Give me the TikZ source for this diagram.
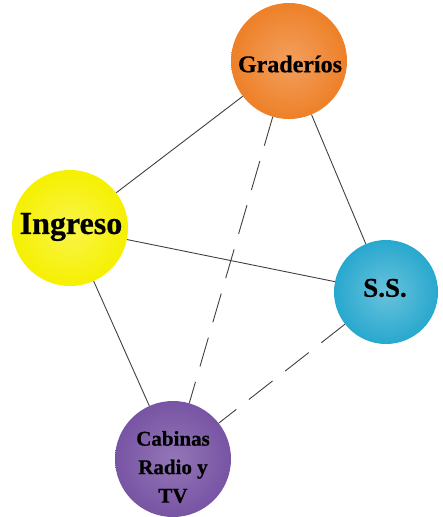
\documentclass[tikz,border=0pt]{standalone}
\usepackage{fontspec}
\setmainfont{Liberation Serif}
\newfontfamily\lblfont{Liberation Serif}[BoldFeatures={FakeBold=0.6}]
\usetikzlibrary{math}
\definecolor{myorange}{RGB}{238,128,40}
\definecolor{myyellow}{RGB}{246,240,0}
\definecolor{mycyan}{RGB}{40,168,206}
\definecolor{mypurple}{RGB}{120,84,164}

\begin{document}
\begin{tikzpicture}[x=1pt,y=-1pt,
  bubble/.style={circle, inner sep=0pt, align=center},
  lbl/.style={font=\lblfont\bfseries\fontsize{#1}{#1}\selectfont},
  link/.style={draw=black!75, line width=0.9pt},
  dashlink/.style={link, dash pattern=on 30pt off 16pt}
]
\tikzmath{
\R=58;
\Rs=52;
}
\useasboundingbox (0,0) rectangle (442,517);

% circles
\node[bubble, minimum size=2*\R, shade, inner color=myorange!75!white, outer color=myorange]
  (grad) at (289,61) {};
\node[bubble, minimum size=2*\R, shade, inner color=myyellow!70!white, outer color=myyellow]
  (ingr) at (70,228) {};
\node[bubble, minimum size=2*\Rs, shade, inner color=mycyan!70!white, outer color=mycyan]
  (ss) at (386,292) {};
\node[bubble, minimum size=2*\R, shade, inner color=mypurple!80!white, outer color=mypurple]
  (cab) at (173,459) {};

% labels
\node[lbl=24] at (290,64) {Graderíos};
\node[lbl=32] at (71,227) {Ingreso};
\node[lbl=27] at (385,288) {S.S.};
\node[lbl=21, align=center, font=\lblfont\bfseries\fontsize{21}{28.5}\selectfont] at (173,467) {Cabinas\\Radio y\\TV};

% connections
\draw[link] (grad) -- (ingr);
\draw[link] (grad) -- (ss);
\draw[link] (ingr) -- (ss);
\draw[link] (ingr) -- (cab);
\draw[dashlink] (grad) -- (cab);
\draw[dashlink] (ss) -- (cab);
\end{tikzpicture}
\end{document}
